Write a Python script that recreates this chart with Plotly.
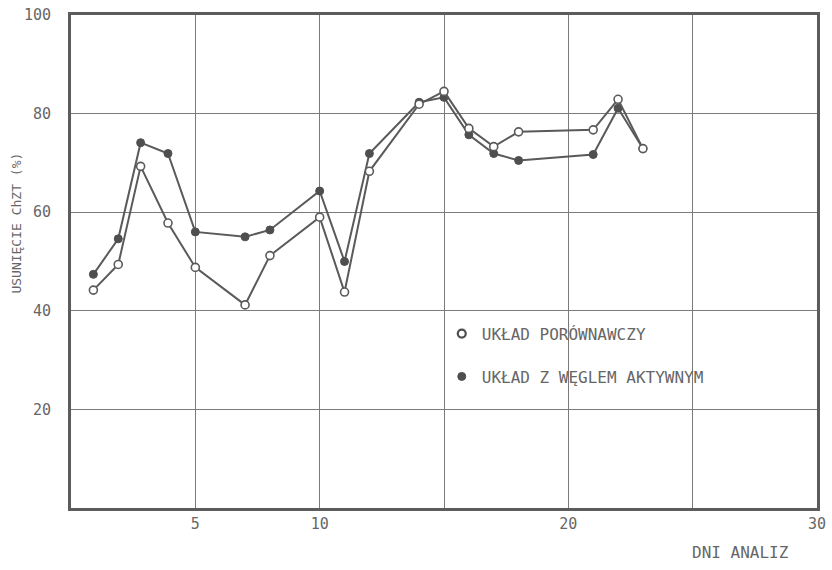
import plotly.graph_objects as go

# Data
days = [0.9, 1.9, 2.8, 3.9, 5.0, 7.0, 8.0, 10.0, 11.0, 12.0, 14.0, 15.0, 16.0, 17.0, 18.0, 21.0, 22.0, 23.0]
uklad_porownawczy = [44.2, 49.4, 69.3, 57.8, 48.8, 41.2, 51.2, 59.0, 43.8, 68.3, 81.9, 84.5, 77.0, 73.3, 76.3, 76.7, 82.9, 72.9]
uklad_wegiel = [47.4, 54.6, 74.1, 71.9, 56.0, 55.0, 56.4, 64.3, 50.0, 71.9, 82.3, 83.3, 75.7, 71.9, 70.5, 71.7, 81.1, 72.9]

name_open = "UKŁAD PORÓWNAWCZY"
name_filled = "UKŁAD Z WĘGLEM AKTYWNYM"

x_tickvals = [5, 10, 15, 20, 25, 30]
x_ticktext = ["5", "10", "", "20", "", "30"]
y_tickvals = [20, 40, 60, 80, 100]

LINE = "#5a5a5a"
TEXT = "#666666"
GRID = "#7a7a7a"
FONT = "DejaVu Sans Mono"

fig = go.Figure()
fig.add_trace(go.Scatter(
    x=days, y=uklad_wegiel, mode="lines+markers", showlegend=False,
    line=dict(color=LINE, width=2),
    marker=dict(symbol="circle", size=8, color="#4f4f4f", line=dict(color="#4f4f4f", width=1)),
))
fig.add_trace(go.Scatter(
    x=days, y=uklad_porownawczy, mode="lines+markers", showlegend=False,
    line=dict(color=LINE, width=2),
    marker=dict(symbol="circle", size=8, color="white", line=dict(color=LINE, width=1.6)),
))
# legend entries (marker only)
fig.add_trace(go.Scatter(
    x=[None], y=[None], mode="markers", name=name_open, legendgroup="a",
    marker=dict(symbol="circle", size=8, color="white", line=dict(color="#4f4f4f", width=2.2)),
))
fig.add_trace(go.Scatter(
    x=[None], y=[None], mode="markers", name=name_filled, legendgroup="b",
    marker=dict(symbol="circle", size=8, color="#4f4f4f", line=dict(color="#4f4f4f", width=1)),
))

fig.update_layout(
    width=832, height=570,
    margin=dict(l=71, r=12, t=6, b=62),
    paper_bgcolor="white", plot_bgcolor="white",
    font=dict(family=FONT, color=TEXT, size=15),
    legend=dict(
        x=0.497, y=0.388, xanchor="left", yanchor="top",
        bgcolor="rgba(0,0,0,0)", font=dict(family=FONT, size=16, color=TEXT),
        tracegroupgap=19, itemwidth=30,
    ),
    xaxis=dict(
        range=[0, 30], tickvals=x_tickvals, ticktext=x_ticktext,
        showgrid=True, gridcolor=GRID, gridwidth=1.3,
        showline=True, linecolor="#5c5c5c", linewidth=2.8, mirror=True,
        ticks="", zeroline=False,
        tickfont=dict(family=FONT, size=15, color=TEXT),
    ),
    yaxis=dict(
        range=[0, 100], tickvals=y_tickvals,
        showgrid=True, gridcolor=GRID, gridwidth=1.3,
        showline=True, linecolor="#5c5c5c", linewidth=2.8, mirror=True,
        ticks="", zeroline=False, ticklabelstandoff=14,
        tickfont=dict(family=FONT, size=15, color=TEXT),
    ),
    annotations=[
        dict(text="DNI ANALIZ", xref="paper", yref="paper", x=0.898, y=-0.09,
             xanchor="center", yanchor="middle", showarrow=False,
             font=dict(family=FONT, size=16, color=TEXT)),
        dict(text="USUNIĘCIE ChZT (%)", xref="paper", yref="paper", x=-0.073, y=0.578,
             xanchor="center", yanchor="middle", showarrow=False, textangle=-90,
             font=dict(family=FONT, size=13, color=TEXT)),
    ],
)

fig.write_html("out.html")
